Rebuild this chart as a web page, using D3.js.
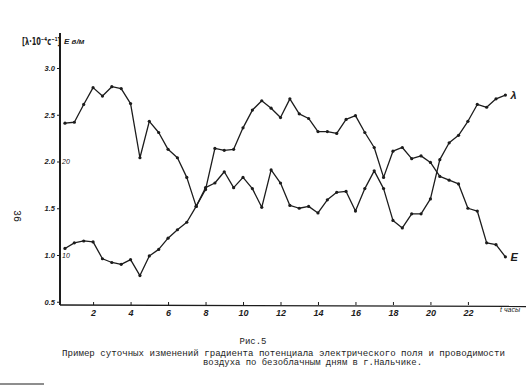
<!DOCTYPE html>
<html>
<head>
<meta charset="utf-8">
<script src="https://cdn.jsdelivr.net/npm/d3@7"></script>
<style>
  body { margin: 0; background: #fff; }
  svg { display: block; }
</style>
</head>
<body>
<svg id="chart" width="528" height="389"></svg>
<script>
// half-hour readings through the day (hours)
const hours = [0.5, 1, 1.5, 2, 2.5, 3, 3.5, 4, 4.5, 5, 5.5, 6, 6.5, 7, 7.5, 8,
  8.5, 9, 9.5, 10, 10.5, 11, 11.5, 12, 12.5, 13, 13.5, 14, 14.5, 15, 15.5, 16,
  16.5, 17, 17.5, 18, 18.5, 19, 19.5, 20, 20.5, 21, 21.5, 22, 22.5, 23, 23.5, 24];

// conductivity lambda, 10^-4 s^-1
const lambdaVals = [2.41, 2.42, 2.61, 2.79, 2.70, 2.80, 2.78, 2.62, 2.04, 2.43,
  2.31, 2.13, 2.04, 1.83, 1.52, 1.72, 1.77, 1.89, 1.72, 1.83,
  1.71, 1.51, 1.91, 1.77, 1.53, 1.50, 1.52, 1.45, 1.59, 1.67,
  1.68, 1.47, 1.71, 1.90, 1.71, 1.37, 1.29, 1.44, 1.44, 1.60,
  2.02, 2.20, 2.28, 2.43, 2.61, 2.58, 2.67, 2.71];

// potential gradient E, V/m
const eVals = [10.7, 11.3, 11.5, 11.4, 9.6, 9.2, 9.0, 9.5, 7.8, 9.9,
  10.6, 11.8, 12.7, 13.5, 15.2, 17.0, 21.4, 21.2, 21.3, 23.6,
  25.5, 26.5, 25.7, 24.7, 26.7, 25.1, 24.6, 23.2, 23.2, 23.0,
  24.5, 24.9, 23.1, 21.5, 18.3, 21.1, 21.5, 20.3, 20.6, 19.9,
  18.4, 18.0, 17.6, 15.0, 14.7, 11.3, 11.1, 9.8];

const hourTicks = [2, 4, 6, 8, 10, 12, 14, 16, 18, 20, 22];
const lambdaTicks = [0.5, 1.0, 1.5, 2.0, 2.5, 3.0];
const eTicks = [10, 20];

const caption = [
  "Рис.5",
  "Пример суточных изменений градиента потенциала электрического поля и проводимости",
  "воздуха по безоблачным дням в г.Нальчике."
];

const ink = "#1c1c1c";
const hand = "'Liberation Sans', Arial, sans-serif";
const typewriter = "'Liberation Mono', 'DejaVu Sans Mono', monospace";

const svg = d3.select("#chart");
const axisX = 60, axisY = 305;

const x = d3.scaleLinear().domain([0, 24]).range([55.6, 505.4]);
const y = d3.scaleLinear().domain([0.5, 3.0]).range([301.75, 68]);
const yE = d3.scaleLinear().domain([5, 30]).range([301.75, 68]);

// axis lines drawn by hand (they run a bit past the scales)
svg.append("line").attr("x1", axisX).attr("x2", axisX).attr("y1", 33).attr("y2", axisY)
  .attr("stroke", ink).attr("stroke-width", 2);
svg.append("line").attr("x1", axisX).attr("x2", 526).attr("y1", axisY).attr("y2", axisY + 1.5)
  .attr("stroke", ink).attr("stroke-width", 1.3);

// hour axis
const gx = svg.append("g")
  .attr("transform", `translate(0,${axisY})`)
  .call(d3.axisBottom(x).tickValues(hourTicks).tickSize(-3).tickPadding(5));
gx.select(".domain").remove();
gx.selectAll("line").attr("stroke", ink);
gx.selectAll("text").attr("fill", ink).attr("font-family", hand)
  .attr("font-style", "italic").attr("font-weight", "bold").attr("font-size", 9);

// lambda axis (left labels)
const gy = svg.append("g")
  .attr("transform", `translate(${axisX},0)`)
  .call(d3.axisLeft(y).tickValues(lambdaTicks).tickSize(3).tickPadding(2).tickFormat(d3.format(".1f")));
gy.select(".domain").remove();
gy.selectAll("line").attr("stroke", ink);
gy.selectAll("text").attr("fill", ink).attr("font-family", hand)
  .attr("font-style", "italic").attr("font-weight", "bold").attr("font-size", 7.5);

// E axis (small labels right of the same line)
const ge = svg.append("g")
  .attr("transform", `translate(${axisX},0)`)
  .call(d3.axisRight(yE).tickValues(eTicks).tickSize(0).tickPadding(2));
ge.select(".domain").remove();
ge.selectAll("text").attr("fill", ink).attr("font-family", hand)
  .attr("font-style", "italic").attr("font-size", 7);

// axis titles (lambda title squeezed sideways to fit left of the axis)
svg.append("text").attr("transform", "translate(22,45) scale(0.6,1)")
  .text("[λ·10⁻⁴c⁻¹]")
  .attr("font-family", "'DejaVu Sans', sans-serif").attr("font-weight", "bold")
  .attr("font-size", 11).attr("fill", ink);

svg.append("text").attr("x", 64).attr("y", 44).text("E в/м")
  .attr("font-family", hand).attr("font-style", "italic").attr("font-weight", "bold")
  .attr("font-size", 8).attr("fill", ink);

svg.append("text").attr("x", 500).attr("y", 312).text("t часы")
  .attr("font-family", hand).attr("font-style", "italic").attr("font-size", 7).attr("fill", ink);

// the two series
const series = [
  { name: "λ", vals: lambdaVals, scale: y },
  { name: "E", vals: eVals, scale: yE }
];

const line = s => d3.line()
  .x((d, i) => x(hours[i]))
  .y(d => s.scale(d));

series.forEach(s => {
  svg.append("path")
    .datum(s.vals)
    .attr("fill", "none")
    .attr("stroke", ink)
    .attr("stroke-width", 1.3)
    .attr("stroke-linejoin", "round")
    .attr("d", line(s));

  svg.append("g").selectAll("circle")
    .data(s.vals)
    .enter().append("circle")
    .attr("cx", (d, i) => x(hours[i]))
    .attr("cy", d => s.scale(d))
    .attr("r", 1.6)
    .attr("fill", ink);

  // end label
  const last = s.vals.length - 1;
  svg.append("text")
    .attr("x", x(hours[last]) + 5)
    .attr("y", s.scale(s.vals[last]) + 4)
    .text(s.name)
    .attr("font-family", hand).attr("font-style", "italic").attr("font-weight", "bold")
    .attr("font-size", 11).attr("fill", ink);
});

// page number, turned on its side
svg.append("text")
  .attr("transform", "translate(14,216) rotate(90)")
  .attr("text-anchor", "middle")
  .text("36")
  .attr("font-family", typewriter).attr("font-size", 10).attr("fill", ink);

// caption (typewritten)
svg.append("text").attr("x", 253).attr("y", 344).attr("text-anchor", "middle")
  .text(caption[0]).attr("font-family", typewriter).attr("font-size", 9).attr("fill", ink);
svg.append("text").attr("x", 62).attr("y", 356)
  .attr("textLength", 443).attr("lengthAdjust", "spacingAndGlyphs")
  .text(caption[1]).attr("font-family", typewriter).attr("font-size", 9).attr("fill", ink);
svg.append("text").attr("x", 203).attr("y", 365)
  .attr("textLength", 219).attr("lengthAdjust", "spacingAndGlyphs")
  .text(caption[2]).attr("font-family", typewriter).attr("font-size", 9).attr("fill", ink);

// short rule at the page foot
svg.append("line").attr("x1", 0).attr("x2", 44).attr("y1", 384).attr("y2", 384)
  .attr("stroke", ink).attr("stroke-width", 1);
</script>
</body>
</html>
